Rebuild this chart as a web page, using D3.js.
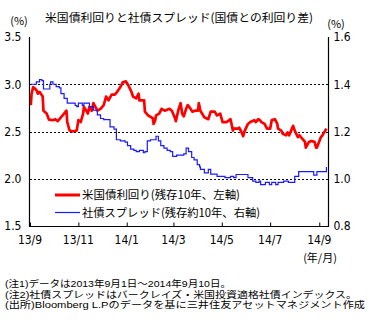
<!DOCTYPE html>
<html><head><meta charset="utf-8">
<script src="https://cdn.jsdelivr.net/npm/d3@7"></script>
<style>
body{margin:0;background:#fff;}
svg{display:block;}
text{font-family:"Noto Sans CJK JP","Noto Sans",sans-serif;fill:#000;}
.num{font-family:"Liberation Sans Narrow","DejaVu Sans Condensed","Liberation Sans",sans-serif;}
.note{font-family:"Liberation Sans","Noto Sans CJK JP",sans-serif;}
</style></head>
<body>
<svg id="c" width="390" height="326"></svg>
<script>
const title = "米国債利回りと社債スプレッド(国債との利回り差)";
const leftTicks = [1.5, 2.0, 2.5, 3.0, 3.5];
const rightTicks = [0.8, 1.0, 1.2, 1.4, 1.6];
const gridLeft = [2.0, 2.5, 3.0];
const xTickDates = ["2013-09-01","2013-11-01","2014-01-01","2014-03-01","2014-05-01","2014-07-01","2014-09-01"];
const xTickLabels = ["13/9","13/11","14/1","14/3","14/5","14/7","14/9"];
const legendLabels = ["米国債利回り(残存10年、左軸)","社債スプレッド(残存約10年、右軸)"];
const notes = ["(注1)データは2013年9月1日～2014年9月10日。",
  "(注2)社債スプレッドはバークレイズ・米国投資適格社債インデックス。",
  "(出所)Bloomberg L.Pのデータを基に三井住友アセットマネジメント作成"];

// US 10y yield (%), left axis
const yieldDates = ["2013-09-02","2013-09-03","2013-09-05","2013-09-09","2013-09-11","2013-09-13","2013-09-17","2013-09-18","2013-09-22","2013-09-25","2013-09-30",
"2013-10-03","2013-10-06","2013-10-10","2013-10-14","2013-10-17","2013-10-18","2013-10-21","2013-10-25","2013-10-30",
"2013-11-01","2013-11-04","2013-11-07","2013-11-08","2013-11-11","2013-11-13","2013-11-15","2013-11-18","2013-11-20","2013-11-25","2013-11-29",
"2013-12-03","2013-12-06","2013-12-09","2013-12-13","2013-12-17","2013-12-20","2013-12-24","2013-12-27","2013-12-31",
"2014-01-03","2014-01-07","2014-01-09","2014-01-13","2014-01-16","2014-01-17","2014-01-23","2014-01-24","2014-01-28",
"2014-02-03","2014-02-04","2014-02-06","2014-02-07","2014-02-11","2014-02-14","2014-02-18","2014-02-24","2014-02-27",
"2014-03-03","2014-03-04","2014-03-07","2014-03-10","2014-03-12","2014-03-14","2014-03-17","2014-03-19","2014-03-21","2014-03-25","2014-03-28",
"2014-04-01","2014-04-02","2014-04-04","2014-04-09","2014-04-14","2014-04-17","2014-04-22","2014-04-25","2014-04-29",
"2014-05-02","2014-05-07","2014-05-12","2014-05-15","2014-05-16","2014-05-21","2014-05-23","2014-05-26","2014-05-28","2014-05-30",
"2014-06-03","2014-06-06","2014-06-11","2014-06-13","2014-06-16","2014-06-18","2014-06-20","2014-06-24","2014-06-27",
"2014-07-01","2014-07-03","2014-07-07","2014-07-10","2014-07-11","2014-07-15","2014-07-17","2014-07-21","2014-07-23","2014-07-25","2014-07-30",
"2014-08-01","2014-08-05","2014-08-07","2014-08-11","2014-08-14","2014-08-15","2014-08-19","2014-08-22","2014-08-26","2014-08-28","2014-08-29",
"2014-09-03","2014-09-05","2014-09-10"];
const yieldValues = [2.78,2.90,2.97,2.94,2.90,2.92,2.87,2.72,2.69,2.625,2.62,
2.63,2.61,2.65,2.69,2.72,2.60,2.51,2.50,2.51,
2.62,2.60,2.69,2.76,2.72,2.69,2.76,2.72,2.80,2.72,2.74,
2.78,2.87,2.83,2.89,2.89,2.92,2.97,3.02,3.03,
2.99,2.92,2.87,2.85,2.90,2.83,2.83,2.71,2.67,
2.64,2.58,2.62,2.67,2.69,2.74,2.72,2.74,2.72,
2.64,2.61,2.72,2.80,2.69,2.66,2.74,2.78,2.76,2.71,2.72,
2.72,2.80,2.72,2.65,2.63,2.71,2.71,2.67,2.69,
2.60,2.60,2.63,2.51,2.53,2.53,2.54,2.49,2.45,2.51,
2.58,2.60,2.62,2.60,2.63,2.62,2.60,2.58,2.53,
2.53,2.62,2.63,2.58,2.53,2.51,2.475,2.46,2.49,2.46,2.56,
2.51,2.44,2.46,2.42,2.39,2.33,2.39,2.40,2.39,2.33,2.33,
2.44,2.46,2.53];

// Corporate bond spread (%), right axis
const spreadDates = ["2013-09-02","2013-09-05","2013-09-09","2013-09-13","2013-09-16","2013-09-18","2013-09-24","2013-09-26","2013-09-27","2013-09-30",
"2013-10-04","2013-10-08","2013-10-10","2013-10-14","2013-10-18","2013-10-23","2013-10-28","2013-10-30",
"2013-11-01","2013-11-06","2013-11-08","2013-11-13","2013-11-15","2013-11-20","2013-11-25","2013-11-29",
"2013-12-03","2013-12-09","2013-12-11","2013-12-16","2013-12-19","2013-12-24","2013-12-30",
"2014-01-02","2014-01-06","2014-01-10","2014-01-13","2014-01-17","2014-01-22","2014-01-24","2014-01-27","2014-01-31",
"2014-02-04","2014-02-07","2014-02-10","2014-02-13","2014-02-17","2014-02-21","2014-02-25","2014-02-28",
"2014-03-05","2014-03-10","2014-03-14","2014-03-17","2014-03-20","2014-03-24","2014-03-27","2014-03-31",
"2014-04-03","2014-04-04","2014-04-09","2014-04-14","2014-04-17","2014-04-25",
"2014-05-05","2014-05-12","2014-05-16","2014-05-19","2014-05-30",
"2014-06-03","2014-06-09","2014-06-13","2014-06-17","2014-06-19","2014-06-25","2014-06-30",
"2014-07-03","2014-07-08","2014-07-11","2014-07-18","2014-07-24","2014-07-29",
"2014-08-01","2014-08-06","2014-08-12","2014-08-18","2014-08-25","2014-08-29",
"2014-09-04","2014-09-10"];
const spreadValues = [1.40,1.40,1.41,1.42,1.415,1.38,1.38,1.40,1.41,1.40,
1.39,1.385,1.36,1.34,1.32,1.32,1.31,1.305,
1.32,1.31,1.32,1.32,1.305,1.29,1.27,1.255,
1.25,1.25,1.22,1.21,1.165,1.16,1.155,
1.14,1.125,1.12,1.115,1.12,1.11,1.115,1.16,1.165,
1.165,1.18,1.16,1.14,1.13,1.12,1.115,1.095,
1.10,1.10,1.105,1.13,1.115,1.09,1.08,1.06,
1.05,1.04,1.025,1.04,1.02,1.01,
1.005,1.01,1.005,1.018,1.018,
1.005,0.99,0.985,0.99,0.975,0.985,0.975,
0.985,0.975,0.985,0.99,0.985,0.985,
1.01,1.03,1.03,1.03,1.015,1.03,
1.03,1.05];

const parse = d3.timeParse("%Y-%m-%d");
const svg = d3.select("#c");
const L = 30, R = 328, T = 37, B = 226;

const x = d3.scaleTime().domain([parse("2013-09-01"), parse("2014-09-12")]).range([L, R]);
const yL = d3.scaleLinear().domain([1.5, 3.5]).range([B, T]);
const yR = d3.scaleLinear().domain([0.8, 1.6]).range([B, T]);

// gridlines
svg.append("g").selectAll("line").data(gridLeft).join("line")
  .attr("x1", L).attr("x2", R)
  .attr("y1", d => Math.round(yL(d)) + 0.5).attr("y2", d => Math.round(yL(d)) + 0.5)
  .attr("stroke", "#000").attr("stroke-width", 1).attr("stroke-dasharray", "2,2");

// lines
const yieldData = yieldDates.map((d, i) => ({d: parse(d), v: yieldValues[i]}));
const spreadData = spreadDates.map((d, i) => ({d: parse(d), v: spreadValues[i]}));
svg.append("path").datum(yieldData)
  .attr("d", d3.line().x(p => x(p.d)).y(p => yL(p.v)))
  .attr("fill", "none").attr("stroke", "#ff0000").attr("stroke-width", 2.7).attr("stroke-linejoin", "round");
svg.append("path").datum(spreadData)
  .attr("d", d3.line().x(p => x(p.d)).y(p => yR(p.v)).curve(d3.curveStepAfter))
  .attr("fill", "none").attr("stroke", "#1a1aff").attr("stroke-width", 1.2);

// axes
const axL = svg.append("g").attr("transform", `translate(${L - 0.5},0)`)
  .call(d3.axisLeft(yL).tickValues(leftTicks).tickFormat(d3.format(".1f")).tickSize(0).tickPadding(8));
const axR = svg.append("g").attr("transform", `translate(${R + 0.5},0)`)
  .call(d3.axisRight(yR).tickValues(rightTicks).tickFormat(d3.format(".1f")).tickSize(0).tickPadding(5));
const axB = svg.append("g").attr("transform", `translate(0,${B + 0.5})`)
  .call(d3.axisTop(x).tickValues(xTickDates.map(parse)).tickFormat(() => "").tickSize(4));
[axL, axR, axB].forEach(a => {
  a.select(".domain").remove();
  a.selectAll("line").attr("stroke", "#000");
  a.selectAll("text").attr("class", "num").attr("font-size", 12).attr("fill", "#000");
});
// axis frame (left, right, bottom)
svg.append("path").attr("d", `M${L - 0.5},${T}V${B + 0.5}H${R + 0.5}V${T}`)
  .attr("fill", "none").attr("stroke", "#000").attr("stroke-width", 1.2);

// x labels
svg.append("g").selectAll("text").data(xTickDates).join("text")
  .attr("class", "num").attr("font-size", 12)
  .attr("x", d => x(parse(d))).attr("y", 244).attr("text-anchor", "middle")
  .text((d, i) => xTickLabels[i]);

// titles
svg.append("text").attr("x", 45).attr("y", 22).attr("font-size", 11.5)
  .attr("textLength", 268).attr("lengthAdjust", "spacingAndGlyphs").text(title);
svg.append("text").attr("x", 19).attr("y", 25).attr("text-anchor", "middle").attr("font-size", 11).text("(%)");
svg.append("text").attr("x", 336).attr("y", 28).attr("text-anchor", "middle").attr("font-size", 11).text("(%)");
svg.append("text").attr("x", 320).attr("y", 262).attr("text-anchor", "middle").attr("font-size", 11).text("(年/月)");

// legend
const lg = svg.append("g");
const legColors = ["#ff0000", "#1a1aff"], legW = [3, 1.2], legY = [195, 212.5], legLen = [158, 178];
legendLabels.forEach((t, i) => {
  lg.append("line").attr("x1", 55).attr("x2", 80).attr("y1", legY[i]).attr("y2", legY[i])
    .attr("stroke", legColors[i]).attr("stroke-width", legW[i]);
  lg.append("text").attr("x", 82).attr("y", legY[i] + 4).attr("font-size", 11.5)
    .attr("textLength", legLen[i]).attr("lengthAdjust", "spacingAndGlyphs").text(t);
});

// notes
const noteLen = [226, 352, 360];
svg.append("g").selectAll("text").data(notes).join("text")
  .attr("class", "note")
  .attr("x", 5).attr("y", (d, i) => 287 + i * 10.5).attr("font-size", 9.3)
  .attr("textLength", (d, i) => noteLen[i]).attr("lengthAdjust", "spacingAndGlyphs").text(d => d);
</script>
</body></html>
